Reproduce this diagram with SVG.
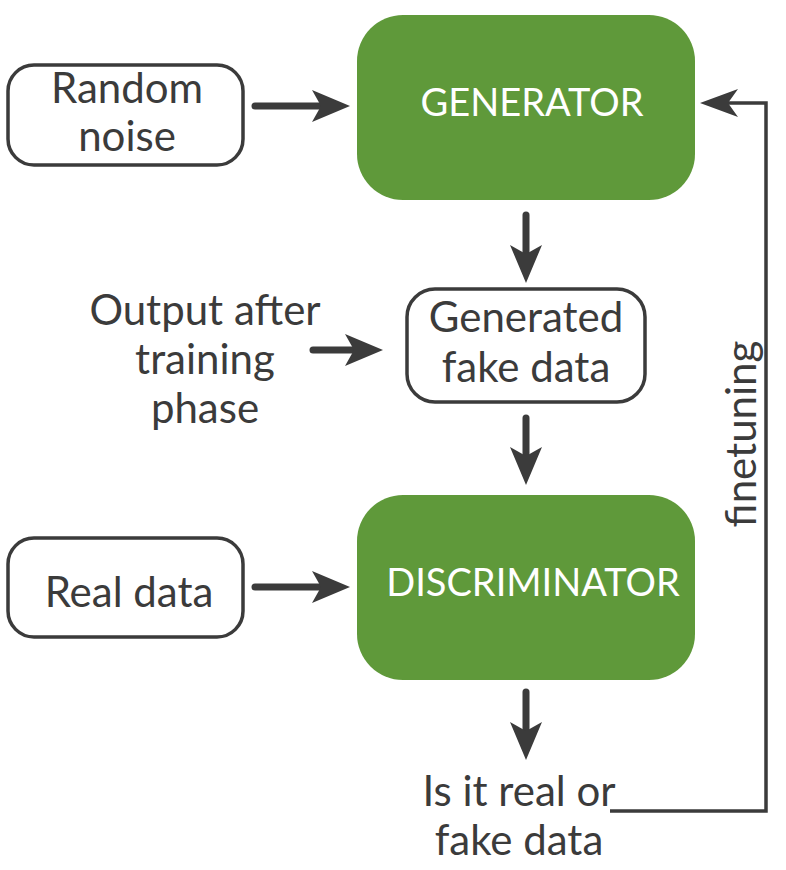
<svg xmlns="http://www.w3.org/2000/svg" width="786" height="870" viewBox="0 0 786 870">
<style>
.box{fill:#fff;stroke:#3b3b3b;stroke-width:3.5}
.green{fill:#5f993a}
.t{font-family:Lato,"Open Sans","Liberation Sans",sans-serif;font-size:42px;fill:#3b3b3b;text-anchor:middle}
.w{font-family:Lato,"Open Sans","Liberation Sans",sans-serif;font-size:38px;fill:#fff;text-anchor:middle}
.c{stroke:#3b3b3b;stroke-width:7;fill:none;stroke-linecap:round}
.f{stroke:#3b3b3b;stroke-width:3.5;fill:none}
</style>
<defs>
<marker id="ah" viewBox="0 0 38 32" refX="18" refY="16" markerWidth="38" markerHeight="32" markerUnits="userSpaceOnUse" orient="auto">
<path d="M0,0 L38,16 L0,32 L9,16 z" fill="#3b3b3b"/>
</marker>
<marker id="ahs" viewBox="0 0 38 28" refX="20" refY="14" markerWidth="38" markerHeight="28" markerUnits="userSpaceOnUse" orient="auto">
<path d="M0,0 L38,14 L0,28 L10,14 z" fill="#3b3b3b"/>
</marker>
</defs>
<g id="connectors">
<line class="c" x1="255" y1="106" x2="330" y2="106" marker-end="url(#ah)"/>
<line class="c" x1="526" y1="215" x2="526" y2="263" marker-end="url(#ah)"/>
<line class="c" x1="313" y1="350" x2="363" y2="350" marker-end="url(#ah)"/>
<line class="c" x1="526" y1="418" x2="526" y2="465" marker-end="url(#ah)"/>
<line class="c" x1="255" y1="587" x2="330" y2="587" marker-end="url(#ah)"/>
<line class="c" x1="526" y1="692" x2="526" y2="740" marker-end="url(#ah)"/>
<path class="f" d="M610,811 H766 V103 H718" marker-end="url(#ahs)"/>
</g>
<g id="random-noise">
<rect class="box" x="8" y="65" width="235" height="100" rx="26"/>
<text class="t" x="127" y="103">Random</text>
<text class="t" x="127" y="151">noise</text>
</g>
<g id="generator">
<rect class="green" x="357" y="15" width="338" height="185" rx="46"/>
<text class="w" x="532" y="116">GENERATOR</text>
</g>
<g id="generated-fake-data">
<rect class="box" x="407" y="289" width="238" height="113" rx="28"/>
<text class="t" x="526" y="332">Generated</text>
<text class="t" x="526" y="382">fake data</text>
</g>
<g id="output-after-training">
<text class="t" x="205" y="325">Output after</text>
<text class="t" x="205" y="374">training</text>
<text class="t" x="205" y="423">phase</text>
</g>
<g id="discriminator">
<rect class="green" x="357" y="495" width="338" height="185" rx="46"/>
<text class="w" x="533" y="596">DISCRIMINATOR</text>
</g>
<g id="real-data">
<rect class="box" x="8" y="538" width="235" height="99" rx="26"/>
<text class="t" x="129" y="607">Real data</text>
</g>
<g id="output">
<text class="t" x="519" y="806">Is it real or</text>
<text class="t" x="519" y="855">fake data</text>
</g>
<g id="finetuning-label">
<text class="t" x="0" y="0" transform="translate(756,434) rotate(-90)">finetuning</text>
</g>
</svg>
